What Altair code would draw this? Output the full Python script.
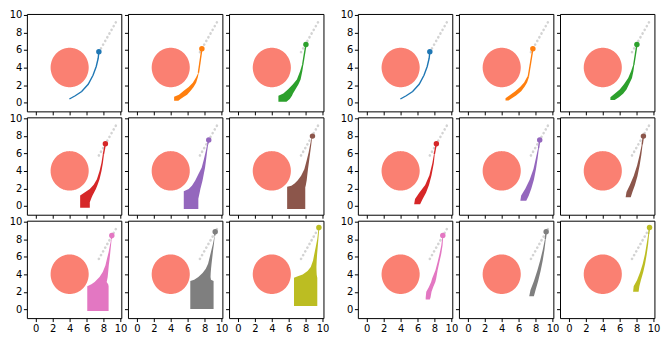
import altair as alt
import pandas as pd
import numpy as np

COLORS = ["#1f77b4", "#ff7f0e", "#2ca02c", "#d62728", "#9467bd",
          "#8c564b", "#e377c2", "#7f7f7f", "#bcbd22"]
TICKS = [0, 2, 4, 6, 8, 10]
X_DOMAIN = [-1.05, 10.1]
Y_DOMAIN = [-1.0, 10.1]

CIRCLE_CENTER = (4.0, 4.0)
CIRCLE_RADIUS = 2.25

GUIDE_X = [7.45, 9.6]
GUIDE_Y = [5.75, 9.4]

LEFT_END_X = [7.45, 7.68, 8.03, 8.22, 8.49, 8.80, 8.98, 9.25, 9.56]
LEFT_END_Y = [5.80, 6.13, 6.61, 7.10, 7.51, 7.96, 8.42, 8.84, 9.33]
RIGHT_END_X = [7.45, 7.68, 8.03, 8.22, 8.49, 8.80, 8.98, 9.25, 9.52]
RIGHT_END_Y = [5.80, 6.13, 6.61, 7.10, 7.51, 7.96, 8.42, 8.84, 9.33]

# thin trajectory of the first panel (x, y)
PATH_FIRST = [[3.97, 0.41], [4.66, 0.78], [5.42, 1.26], [6.19, 2.08],
              [6.76, 3.12], [7.14, 4.12], [7.37, 5.05], [7.45, 5.80]]

# bands: [y, x_left, x_right]
LEFT_BANDS = [
    [],
    [[0.22, 4.40, 4.90], [0.41, 4.40, 5.16], [0.67, 4.40, 5.55], [0.89, 4.97, 5.93],
     [1.34, 5.54, 6.35], [1.78, 6.12, 6.70], [2.27, 6.61, 7.00], [2.90, 7.00, 7.20],
     [3.38, 7.24, 7.30]],
    [[0.11, 4.78, 5.73], [0.41, 4.78, 6.12], [0.78, 4.78, 6.38], [1.04, 5.36, 6.50],
     [1.52, 5.93, 6.80], [2.08, 6.50, 7.15], [2.64, 6.96, 7.40], [3.57, 7.34, 7.60],
     [4.31, 7.57, 7.72]],
    [[-0.21, 5.24, 6.38], [0.43, 5.24, 6.38], [0.92, 5.24, 6.57], [1.18, 5.24, 6.70],
     [1.55, 5.81, 6.90], [1.93, 6.38, 7.10], [2.42, 6.84, 7.30], [3.05, 7.22, 7.53],
     [3.99, 7.53, 7.76], [4.92, 7.76, 7.93], [5.86, 7.91, 8.05]],
    [[-0.36, 5.54, 7.26], [0.81, 5.54, 7.26], [1.67, 5.54, 7.45], [1.93, 6.12, 7.50],
     [2.30, 6.50, 7.60], [2.87, 6.88, 7.75], [3.61, 7.26, 7.90], [4.36, 7.65, 8.05],
     [5.30, 7.91, 8.18], [6.24, 8.14, 8.30], [6.99, 8.30, 8.41]],
    [[-0.36, 5.81, 7.95], [2.12, 5.81, 7.95], [2.19, 5.81, 7.97], [2.30, 6.31, 8.00],
     [2.57, 6.69, 8.05], [2.94, 7.07, 8.12], [3.43, 7.46, 8.18], [4.18, 7.84, 8.27],
     [5.11, 8.10, 8.40], [6.05, 8.34, 8.53], [6.99, 8.53, 8.66], [7.73, 8.68, 8.74]],
    [[-0.19, 6.08, 8.60], [2.63, 6.08, 8.60], [2.86, 6.57, 8.55], [3.12, 6.95, 8.37],
     [3.23, 7.07, 8.40], [3.68, 7.53, 8.49], [4.25, 7.91, 8.55], [5.00, 8.22, 8.62],
     [5.75, 8.41, 8.72], [6.50, 8.60, 8.80], [7.26, 8.75, 8.88], [8.01, 8.91, 8.96]],
    [[0.03, 6.31, 9.06], [3.23, 6.31, 9.06], [3.38, 6.77, 8.75], [3.68, 7.26, 8.70],
     [4.13, 7.76, 8.72], [4.62, 8.14, 8.76], [5.19, 8.41, 8.82], [5.94, 8.60, 8.91],
     [6.69, 8.79, 9.00], [7.45, 8.98, 9.10], [8.39, 9.17, 9.20]],
    [[0.37, 6.62, 9.37], [3.61, 6.62, 9.37], [3.76, 7.07, 9.33], [3.98, 7.65, 9.30],
     [4.36, 8.22, 9.28], [4.81, 8.60, 9.27], [5.56, 8.87, 9.30], [6.31, 9.02, 9.35],
     [7.07, 9.18, 9.42], [8.01, 9.37, 9.50], [8.95, 9.48, 9.58]],
]

RIGHT_BANDS = [
    [],
    [[0.25, 4.45, 4.80], [0.50, 4.45, 5.20], [0.80, 4.90, 5.70], [1.30, 5.60, 6.30],
     [1.80, 6.20, 6.70], [2.30, 6.65, 7.00], [3.00, 7.05, 7.25]],
    [[0.30, 4.90, 5.40], [0.60, 4.90, 5.90], [1.00, 5.40, 6.40], [1.50, 6.00, 6.80],
     [2.10, 6.50, 7.10], [2.80, 7.00, 7.45], [3.60, 7.35, 7.62], [4.30, 7.60, 7.72]],
    [[0.20, 5.60, 6.30], [0.80, 5.70, 6.60], [1.50, 6.20, 7.00], [2.40, 6.90, 7.35],
     [3.50, 7.40, 7.65], [4.90, 7.75, 7.92], [5.90, 7.93, 8.03]],
    [[0.60, 6.20, 6.90], [1.20, 6.30, 7.20], [2.00, 6.80, 7.50], [3.00, 7.30, 7.80],
     [4.20, 7.75, 8.05], [5.50, 8.05, 8.25], [6.60, 8.30, 8.40]],
    [[1.00, 6.70, 7.30], [1.60, 6.80, 7.50], [2.40, 7.20, 7.80], [3.40, 7.65, 8.10],
     [4.60, 8.05, 8.35], [5.80, 8.35, 8.55], [7.00, 8.60, 8.70]],
    [[1.13, 6.96, 7.45], [1.35, 6.96, 7.53], [1.99, 7.03, 7.65], [2.55, 7.34, 7.85],
     [3.12, 7.60, 8.10], [3.50, 7.72, 8.20], [4.44, 8.11, 8.37], [5.38, 8.37, 8.58],
     [6.32, 8.60, 8.80], [7.26, 8.80, 8.95], [8.20, 8.93, 9.02]],
    [[1.50, 7.25, 7.80], [2.20, 7.40, 8.00], [3.20, 7.80, 8.30], [4.40, 8.20, 8.60],
     [5.60, 8.55, 8.85], [6.80, 8.85, 9.05], [8.00, 9.10, 9.20]],
    [[1.99, 7.58, 8.23], [2.63, 7.65, 8.32], [3.31, 8.04, 8.50], [4.25, 8.42, 8.78],
     [5.19, 8.72, 9.00], [6.32, 8.99, 9.20], [7.45, 9.18, 9.36], [8.57, 9.37, 9.47]],
]


def circle_df():
    cx, cy = CIRCLE_CENTER
    r = CIRCLE_RADIUS
    t = np.linspace(-np.pi / 2, np.pi / 2, 81)
    ys = cy + r * np.sin(t)
    half = r * np.cos(t)
    return pd.DataFrame({"y": ys, "xl": cx - half, "xr": cx + half})


CIRCLE = circle_df()
GUIDE = pd.DataFrame({"x": GUIDE_X, "y": GUIDE_Y})


def panel(i, bands, end_x, end_y, w=95, h=98):
    r, c = divmod(i, 3)
    color = COLORS[i]
    xs = alt.Scale(domain=X_DOMAIN, nice=False, zero=False)
    ys = alt.Scale(domain=Y_DOMAIN, nice=False, zero=False)
    xax = alt.Axis(values=TICKS, labels=(r == 2), title=None, grid=False, tickCount=6,
                   domain=False, labelOverlap=False, labelFlush=False)
    yax = alt.Axis(values=TICKS, labels=(c == 0), title=None, grid=False, tickCount=6,
                   domain=False, labelOverlap=False, labelFlush=False)

    def X(f):
        return alt.X(f, type="quantitative", scale=xs, axis=xax)

    def Y(f):
        return alt.Y(f, type="quantitative", scale=ys, axis=yax)

    circ = alt.Chart(CIRCLE).mark_area(orient="horizontal", color="#fa8072", opacity=1).encode(
        y=Y("y"), x=X("xl"), x2="xr",
    )
    guide = alt.Chart(GUIDE).mark_line(
        color="#d3d3d3", strokeWidth=2.6, strokeDash=[0.1, 4.2], strokeCap="round"
    ).encode(x=X("x"), y=Y("y"))

    layers = [circ, guide]
    if bands:
        bdf = pd.DataFrame(bands, columns=["y", "xl", "xr"])
        layers.append(
            alt.Chart(bdf).mark_area(orient="horizontal", color=color, opacity=1).encode(
                y=Y("y"), x=X("xl"), x2="xr"
            )
        )
        top = bands[-1]
        pts = [[(top[1] + top[2]) / 2, top[0]], [end_x[i], end_y[i]]]
    else:
        pts = PATH_FIRST
    pdf = pd.DataFrame(pts, columns=["x", "y"])
    pdf["k"] = range(len(pdf))
    layers.append(
        alt.Chart(pdf).mark_line(color=color, strokeWidth=1.4).encode(
            x=X("x"), y=Y("y"), order="k:Q"
        )
    )
    ddf = pd.DataFrame({"x": [end_x[i]], "y": [end_y[i]]})
    layers.append(
        alt.Chart(ddf).mark_circle(color=color, size=30, opacity=1).encode(
            x=X("x"), y=Y("y")
        )
    )
    return alt.layer(*layers).properties(width=w, height=h)


def group(bands_list, end_x, end_y):
    cells = [panel(i, bands_list[i], end_x, end_y) for i in range(9)]
    return alt.concat(*cells, columns=3, spacing={"row": 6, "column": 6.7}, bounds="flush")


chart = alt.hconcat(
    group(LEFT_BANDS, LEFT_END_X, LEFT_END_Y),
    group(RIGHT_BANDS, RIGHT_END_X, RIGHT_END_Y),
    spacing=9,
).properties(
    padding={"left": 0, "top": 0, "right": 0, "bottom": 0},
    background="white",
).configure_view(
    stroke="black", strokeWidth=1
).configure_axis(
    labelFont="DejaVu Sans", labelFontSize=10, labelColor="black",
    tickColor="black", tickSize=3.5, tickWidth=1, labelPadding=1.5,
)

chart.save("out.html", embed_options={"renderer": "svg", "actions": False})
